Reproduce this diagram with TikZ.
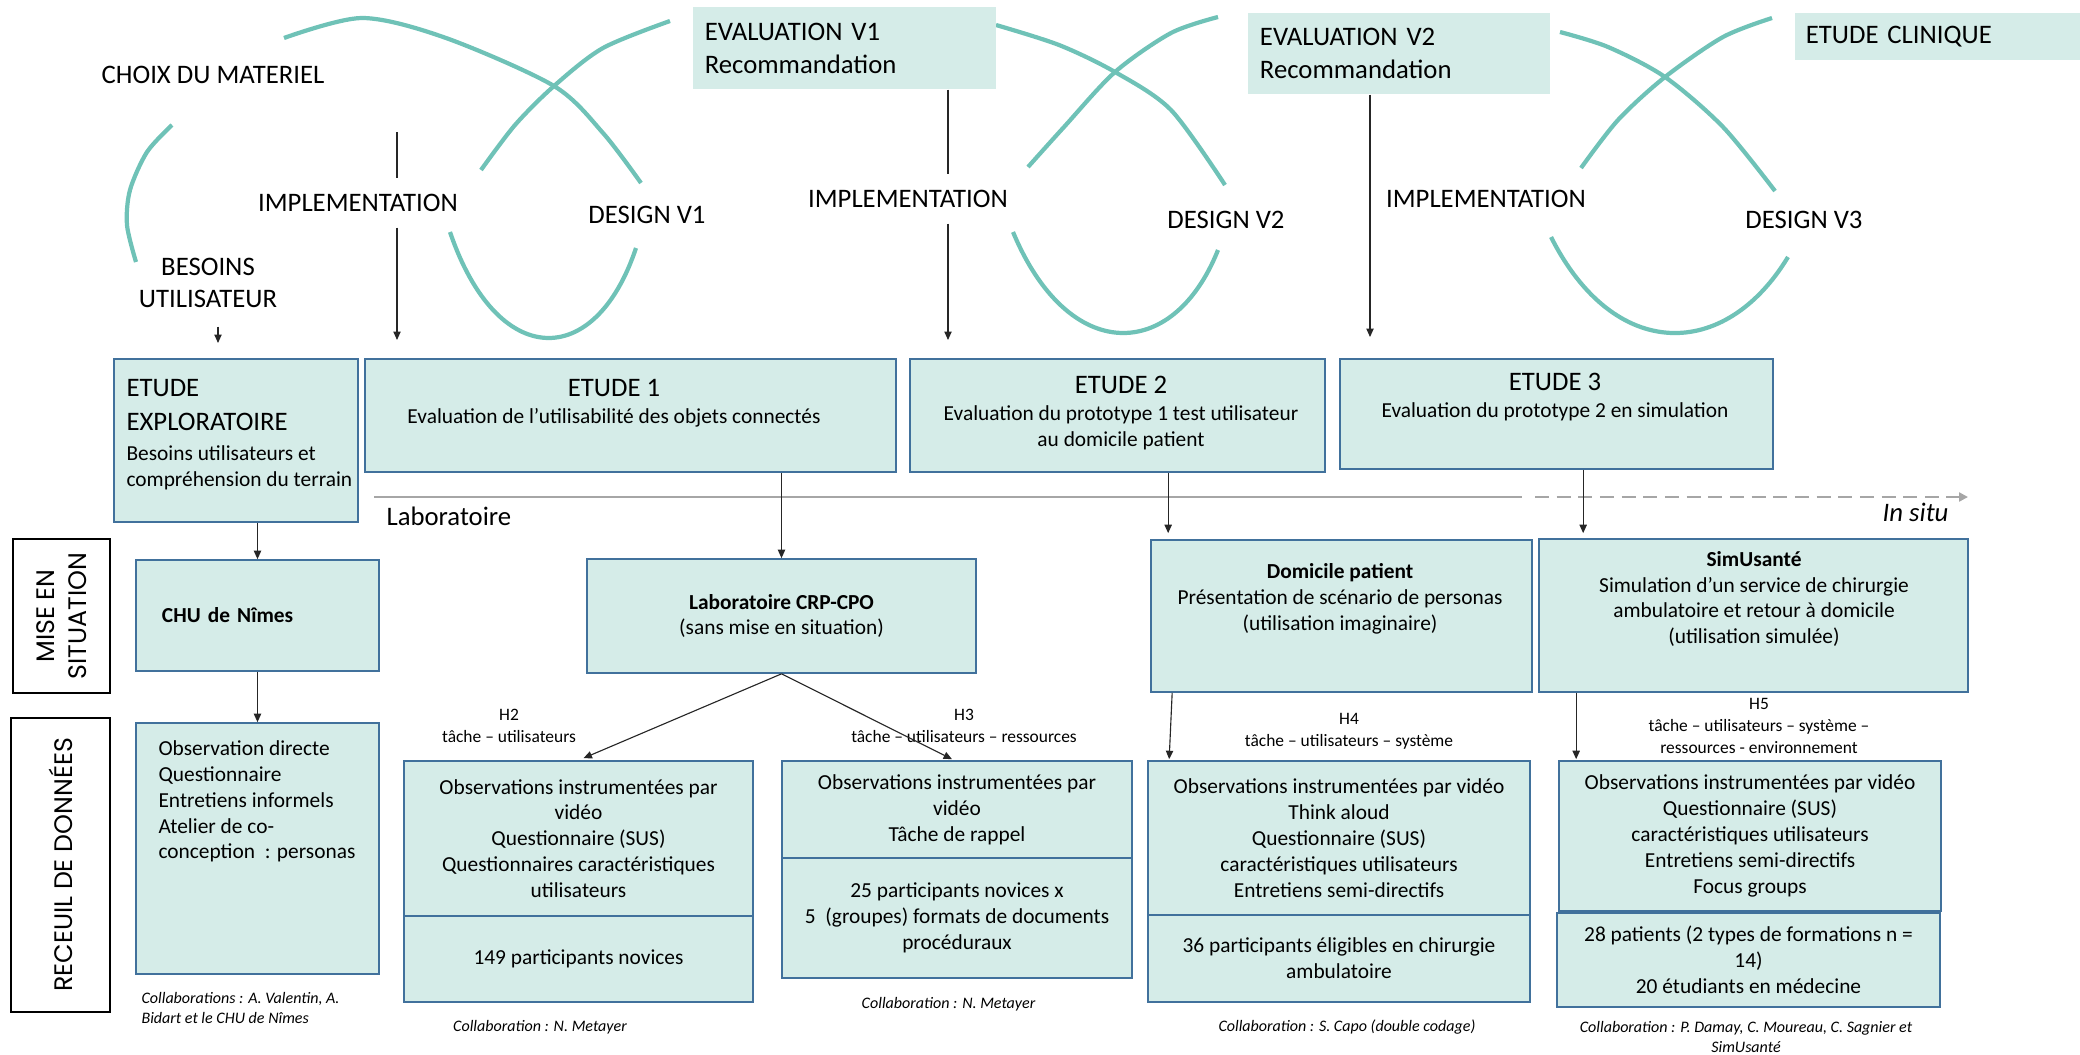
\documentclass[tikz,border=0pt]{standalone}
\usepackage{fontspec}
\setmainfont{Carlito}
\newfontfamily\gothic{Poppins}
\usepackage{xcolor}
\usetikzlibrary{arrows.meta,calc,positioning}
\definecolor{boxfill}{RGB}{213,236,232}
\definecolor{boxline}{RGB}{65,113,156}
\definecolor{loopcol}{RGB}{111,194,183}
\definecolor{labgray}{RGB}{166,166,166}
\tikzset{%
	wh/.style 2 args = {minimum width = #1*0.0125cm, minimum height = #2*0.0125cm},
	phase/.style     = {font=\fontsize{9.5}{11.6}\selectfont, inner sep=0, align=center}, % top labels
	topbox/.style    = {fill=boxfill, inner ysep=0, inner xsep=0.15cm, align=left, font=\fontsize{9.5}{11.7}\selectfont},
	block/.style     = {draw=boxline, fill=boxfill, line width=0.6pt, inner sep=0},
	etitle/.style    = {font=\fontsize{9.5}{12}\selectfont, inner sep=0, align=center},
	etext/.style     = {font=\fontsize{7.6}{9.2}\selectfont, inner sep=0, align=center},
	hypo/.style      = {font=\fontsize{6.2}{7.7}\selectfont, inner sep=0, align=center}, % hypotheses
	collab/.style    = {font=\fontsize{5.7}{7.1}\selectfont\itshape, inner sep=0, align=left},
	sidebox/.style   = {draw, line width=0.8pt, fill=white, rotate=90, inner sep=0, align=center, font=\gothic\fontsize{9}{11.6}\selectfont},
	cycleline/.style = {draw=loopcol, line width=1.5pt},
	link/.style      = {->, line width=0.4pt, draw=black!85},
}

\begin{document}
\begin{tikzpicture}[x=0.0125cm, y=-0.0125cm, >={Triangle[length=3pt,width=2.6pt]}]
	\useasboundingbox (0,0) rectangle (2080,1054);
	% design cycles
	\draw[cycleline] plot[smooth] coordinates {(172,125) (147,152) (130,190) (127,225) (136,262)};
	\draw[cycleline] plot[smooth] coordinates {(284,38) (362,18) (446,38) (554,86) (603,133) (641,183)};
	\draw[cycleline] plot[smooth] coordinates {(670,21) (603,48) (554,86) (515,125) (481,170)};
	\draw[cycleline] (450,232) .. controls (497,370) and (595,371) .. (636,248);
	\draw[cycleline] plot[smooth] coordinates {(996,25) (1059,45) (1115,72) (1171,110) (1225,185)};
	\draw[cycleline] plot[smooth] coordinates {(1218,17) (1171,33) (1115,72) (1064,127) (1028,167)};
	\draw[cycleline] (1013,232) .. controls (1068,364) and (1173,363) .. (1218,250);
	\draw[cycleline] plot[smooth] coordinates {(1560,32) (1608,47) (1665,77) (1723,127) (1775,191)};
	\draw[cycleline] plot[smooth] coordinates {(1772,18) (1723,37) (1665,77) (1618,120) (1581,168)};
	\draw[cycleline] (1551,237) .. controls (1614,362) and (1725,361) .. (1788,257);

	\node[topbox, minimum height=1.025cm, text width=3.49cm] (ev1) at (844.5,48) {EVALUATION V1\\Recommandation};
	\node[topbox, minimum height=1.0125cm, text width=3.475cm] (ev2) at (1399,53.5) {EVALUATION V2\\Recommandation};
	\node[topbox, minimum height=0.5875cm, text width=3.29cm, inner xsep=0.1375cm] (clin) at (1937.5,36.5) {ETUDE CLINIQUE};

	\node[phase] (choix) at (213,75) {CHOIX DU MATERIEL};
	\node[phase] (besoins) at (208,283) {BESOINS\\UTILISATEUR};
	\node[phase, inner ysep=0.19cm] (impl1) at (358,203) {IMPLEMENTATION};
	\node[phase, inner ysep=0.19cm] (impl2) at (908,199) {IMPLEMENTATION};
	\node[phase] (impl3) at (1486,199) {IMPLEMENTATION};
	\node[phase] (des1) at (647,215) {DESIGN V1};
	\node[phase] (des2) at (1226,220) {DESIGN V2};
	\node[phase] (des3) at (1804,220) {DESIGN V3};

	\coordinate (b1) at (218,343);
	\coordinate (i1s) at (397,132);
	\coordinate (i1e) at (397,340);
	\coordinate (i2e) at (948,340);
	\coordinate (i3e) at (1370,337);
	\draw[link] ($(besoins.south)+(10,18)$) -- (b1);
	\draw[draw=black!85, line width=0.4pt] (i1s) -- (i1s |- impl1.north);
	\draw[link] (i1s |- impl1.south) -- (i1e);
	\draw[draw=black!85, line width=0.4pt] (ev1.south -| i2e) -- (i2e |- impl2.north);
	\draw[link] (i2e |- impl2.south) -- (i2e);
	\draw[link] (ev2.south -| i3e) -- (i3e);

	% studies
	\node[block, wh={244}{163}] (expl) at (236,440.5) {};
	\node[etitle, anchor=north west, align=left] (explt) at (126,379) {ETUDE\\EXPLORATOIRE};
	\node[etext, anchor=north west, align=left] (expls) at (126,445) {Besoins utilisateurs et\\compréhension du terrain};
	\node[block, wh={531}{113}] (e1) at (630.5,415.5) {};
	\node[etitle] (e1t) at (614,388) {ETUDE 1};
	\node[etext] (e1s) at (614,418) {Evaluation de l’utilisabilité des objets connectés};
	\node[block, wh={415}{113}] (e2) at (1117.5,415.5) {};
	\node[etitle] (e2t) at (1121,385) {ETUDE 2};
	\node[etext] (e2s) at (1121,427.5) {Evaluation du prototype 1 test utilisateur\\au domicile patient};
	\node[block, wh={433}{110}] (e3) at (1556.5,414) {};
	\node[etitle] (e3t) at (1555,382) {ETUDE 3};
	\node[etext] (e3s) at (1555,412) {Evaluation du prototype 2 en simulation};

	% laboratoire / in situ
	\coordinate (lab0) at (374,497);
	\coordinate (lab1) at (1522,497);
	\coordinate (situ0) at (1535,497);
	\coordinate (situ1) at (1968,497);
	\draw[draw=labgray, line width=0.8pt] (lab0) -- (lab1);
	\draw[draw=labgray, line width=0.8pt, dash pattern=on 5pt off 2.7pt, -{Triangle[length=3.2pt,width=3.2pt]}] (situ0) -- (situ1);
	\node[phase, anchor=west] (labo) at (386,516) {Laboratoire};
	\node[phase, anchor=east, font=\fontsize{9.5}{11.6}\selectfont\itshape] (insitu) at (1949,512) {In situ};

	\node[sidebox, wh={154}{97}] (mise) at (61.5,616) {MISE EN\\SITUATION};
	\node[sidebox, wh={294}{99}] (recueil) at (60.5,865) {RECEUIL DE DONNÉES};

	% mise en situation
	\node[block, etext, wh={243}{111}, text width=2.3875cm, align=left] (chu) at (257.5,615.5) {\textbf{CHU de Nîmes}};
	\node[block, etext, wh={389}{114}] (lab) at (781.5,616) {\textbf{Laboratoire CRP-CPO}\\(sans mise en situation)};
	\node[block, wh={381}{152}] (dom) at (1341.5,616) {};
	\node[etext] (domt) at (1340,599) {\textbf{Domicile patient}\\Présentation de scénario de personas\\(utilisation imaginaire)};
	\node[block, wh={429}{153}] (sim) at (1753.5,615.5) {};
	\node[etext] (simt) at (1754,599) {\textbf{SimUsanté}\\Simulation d’un service de chirurgie\\ambulatoire et retour à domicile\\(utilisation simulée)};

	\coordinate (dom1) at ($(dom.north west)+(18,-6)$);
	\coordinate (sim1) at ($(sim.north west)+(45,-5)$);
	\draw[link] (expl.south -| chu.north) -- (chu.north);
	\draw[link] (e1.south -| lab.north) -- (lab.north);
	\draw[link] (e2.south -| dom1) -- (dom1);
	\draw[link] (e3.south -| sim1) -- (sim1);

	% recueil de donnees
	\node[block, wh={243}{251}] (obs) at (257.5,848.5) {};
	\node[etext, anchor=north west, align=left] (obst) at (158,740) {Observation directe\\Questionnaire\\Entretiens informels\\Atelier de co-\\conception\ \ : personas};
	\node[collab, anchor=north west] (col1) at (141,992) {Collaborations : A. Valentin, A.\\Bidart et le CHU de Nîmes};

	\node[hypo] (h2) at (509,726) {H2\\tâche – utilisateurs};
	\node[block, etext, wh={349}{155}] (h2a) at (578.5,838.5) {Observations instrumentées par\\vidéo\\Questionnaire (SUS)\\Questionnaires caractéristiques\\utilisateurs};
	\node[block, etext, wh={349}{86}] (h2b) at (578.5,959) {149 participants novices};
	\node[collab] (col2) at (540,1027) {Collaboration : N. Metayer};

	\node[hypo] (h3) at (964,726) {H3\\tâche – utilisateurs – ressources};
	\node[block, etext, wh={350}{97}] (h3a) at (957,809.5) {Observations instrumentées par\\vidéo\\Tâche de rappel};
	\node[block, etext, wh={350}{120}] (h3b) at (957,918) {25 participants novices x\\5\ \ (groupes) formats de documents\\procéduraux};
	\node[collab] (col3) at (948.5,1004) {Collaboration : N. Metayer};

	\node[hypo] (h4) at (1349,731) {H4\\tâche – utilisateurs – système};
	\node[block, etext, wh={382}{154}] (h4a) at (1339,838) {Observations instrumentées par vidéo\\Think aloud\\Questionnaire (SUS)\\caractéristiques utilisateurs\\Entretiens semi-directifs};
	\node[block, etext, wh={382}{87}] (h4b) at (1339,958.5) {36 participants éligibles en chirurgie\\ambulatoire};
	\node[collab] (col4) at (1347,1027) {Collaboration : S. Capo (double codage)};

	\node[hypo] (h5) at (1759,726) {H5\\tâche – utilisateurs – système –\\ressources - environnement};
	\node[block, etext, wh={382}{150}] (h5a) at (1750,836) {Observations instrumentées par vidéo\\Questionnaire (SUS)\\caractéristiques utilisateurs\\Entretiens semi-directifs\\Focus groups};
	\node[block, etext, wh={383}{94}] (h5b) at (1748.5,960) {28 patients (2 types de formations n =\\14)\\20 étudiants en médecine};
	\node[collab, align=center] (col5) at (1746,1037) {Collaboration : P. Damay, C. Moureau, C. Sagnier et\\SimUsanté};

	\draw[link] (chu.south) -- (obs.north);
	\draw[link] (lab.south) -- ($(h2a.north)+(5,-2)$);
	\draw[link] (lab.south) -- ($(h3a.north)+(-5,-1)$);
	\draw[link] ($(dom.south west)+(22,0)$) -- ($(h4a.north west)+(22,-1)$);
	\draw[link] ($(sim.south west)+(38,0)$) -- ($(h5a.north west)+(18,-1)$);
\end{tikzpicture}
\end{document}
